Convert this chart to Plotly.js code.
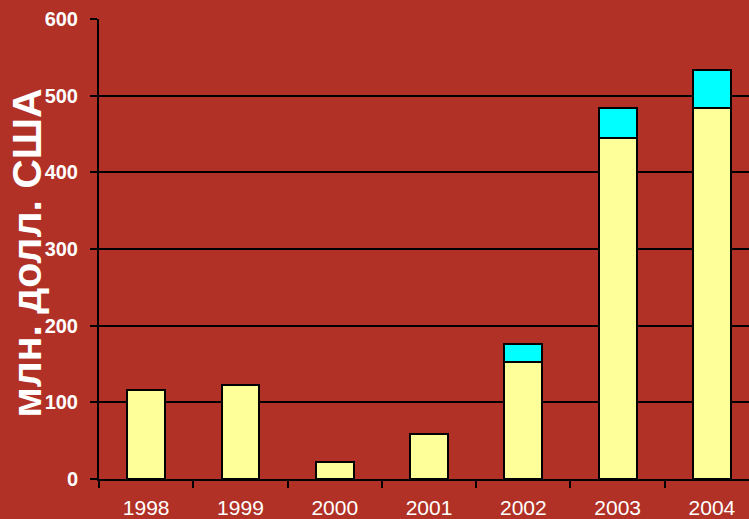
<!DOCTYPE html>
<html>
<head>
<meta charset="utf-8">
<script src="https://cdn.plot.ly/plotly-3.0.1.min.js"></script>
<style>html,body{margin:0;padding:0;background:#B13126;}</style>
</head>
<body>
<div id="chart" style="width:749px;height:519px;"></div>
<script>
const years = ['1998', '1999', '2000', '2001', '2002', '2003', '2004'];
const baseValues = [116, 122, 22, 59, 152, 445, 484];
const extraValues = [0, 0, 0, 0, 24, 39, 50];
const yTicks = [0, 100, 200, 300, 400, 500, 600];
const yTitle = 'млн. долл. США';

const traces = [
  {
    type: 'bar', x: years, y: baseValues,
    marker: {color: '#FFFF99', line: {color: '#000000', width: 2}},
    width: 0.4, hoverinfo: 'none'
  },
  {
    type: 'bar', x: years, y: extraValues,
    marker: {color: '#00FFFF', line: {color: '#000000', width: 2}},
    width: 0.4, hoverinfo: 'none'
  }
];

const layout = {
  width: 749, height: 519,
  barmode: 'stack',
  showlegend: false,
  paper_bgcolor: '#B13126',
  plot_bgcolor: '#B13126',
  margin: {l: 99, r: 0, t: 19, b: 40},
  xaxis: {
    type: 'category',
    range: [-0.5, 6.393],
    tickson: 'boundaries',
    ticks: 'outside', ticklen: 7, tickwidth: 2, tickcolor: '#000',
    showline: true, linecolor: '#000', linewidth: 2,
    showgrid: false,
    tickfont: {family: 'Liberation Sans, Arial, sans-serif', size: 21, color: '#FFFFFF'},
    ticklabelstandoff: 9
  },
  yaxis: {
    range: [0, 600],
    tickvals: yTicks,
    ticktext: yTicks.map(String),
    ticks: 'outside', ticklen: 7, tickwidth: 2, tickcolor: '#000',
    showline: true, linecolor: '#000', linewidth: 2,
    showgrid: true, gridcolor: '#000', gridwidth: 2,
    zeroline: false,
    tickfont: {family: 'Liberation Sans, Arial, sans-serif', size: 20, color: '#FFFFFF', weight: 'bold'},
    ticklabelstandoff: 8
  },
  annotations: [{
    text: yTitle,
    xref: 'paper', yref: 'paper',
    x: (27 - 99) / 650, y: 0.49,
    xanchor: 'center', yanchor: 'middle',
    textangle: -90, showarrow: false,
    font: {family: 'Liberation Sans, Arial, sans-serif', size: 41, color: '#FFFFFF', weight: 'bold'}
  }]
};

Plotly.newPlot('chart', traces, layout, {displayModeBar: false, staticPlot: true});
</script>
</body>
</html>
